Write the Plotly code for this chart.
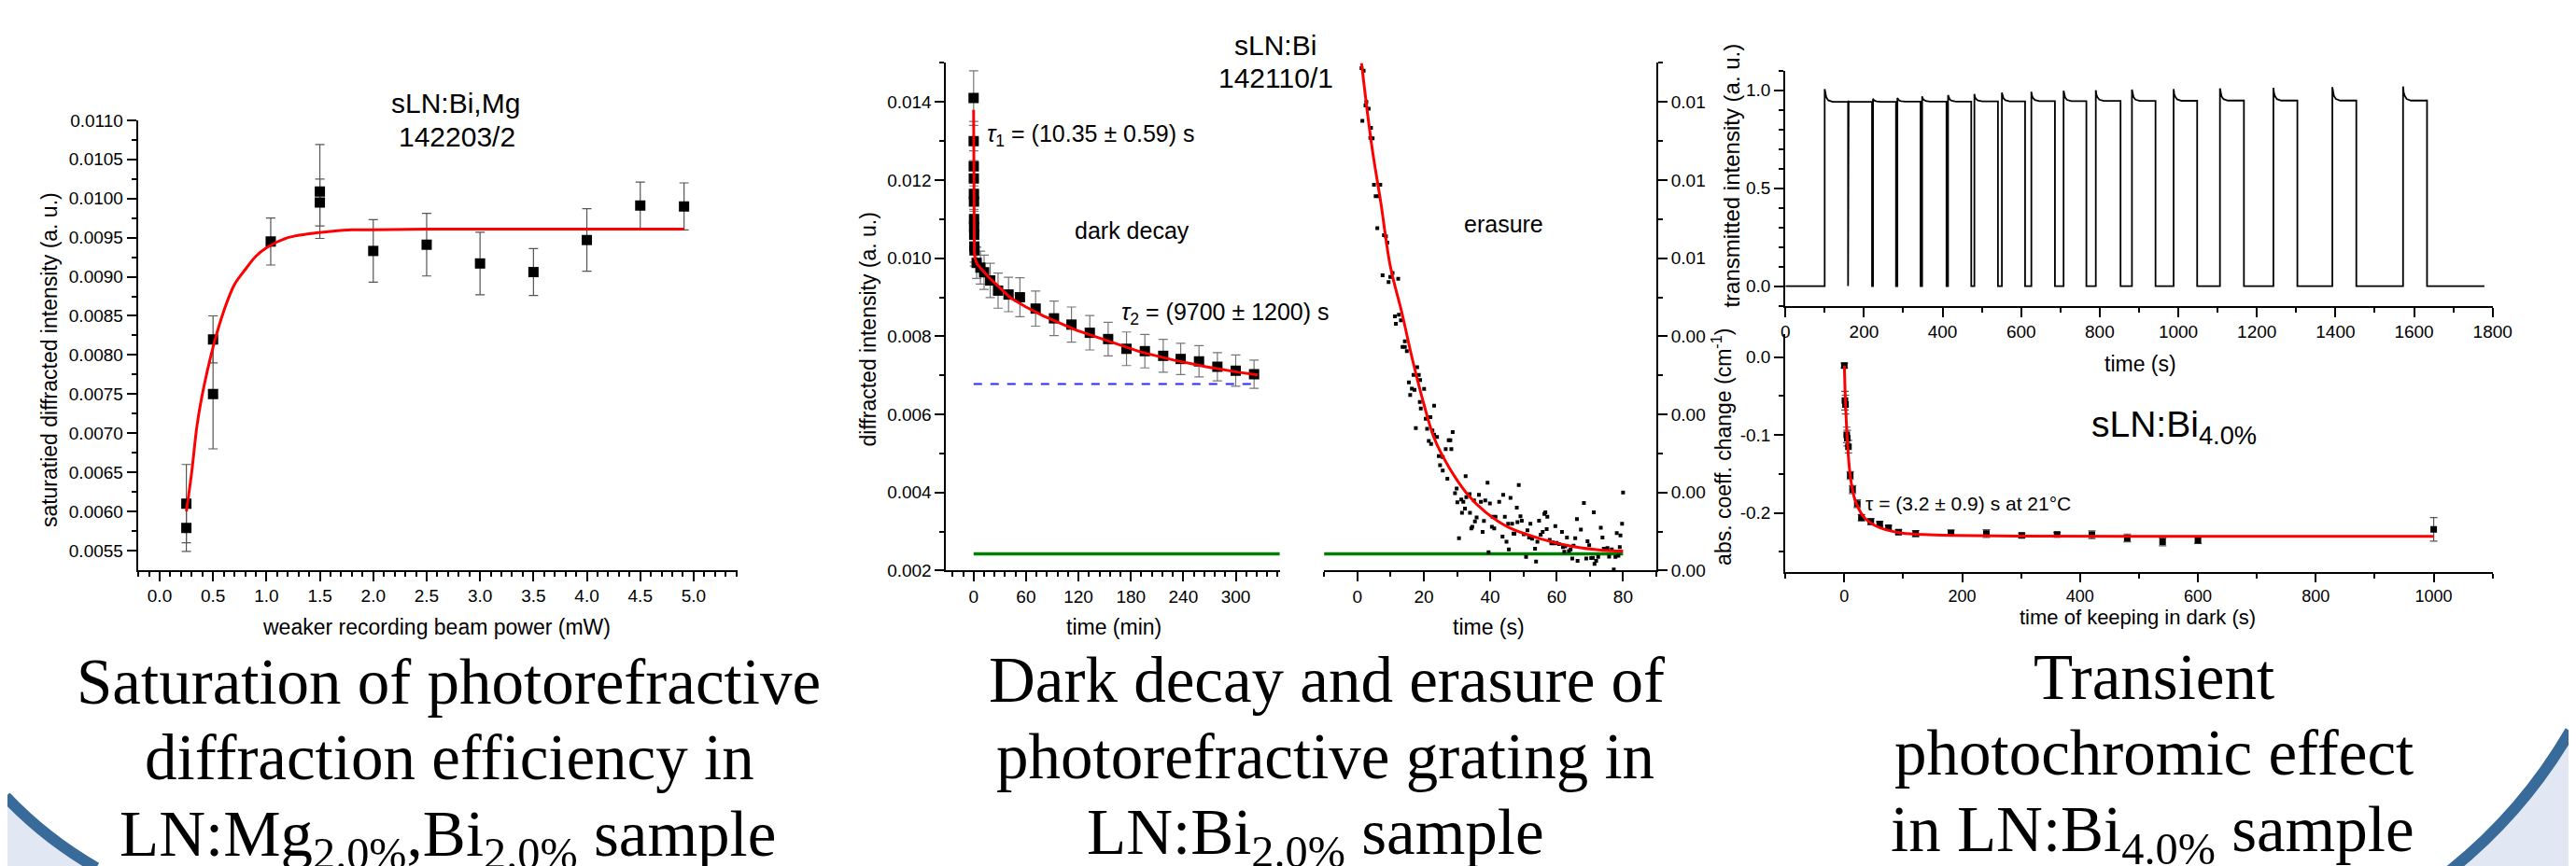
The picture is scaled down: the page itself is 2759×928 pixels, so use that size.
import plotly.graph_objects as go

W, H = 2759, 928
SANS = "Liberation Sans"
SERIF = "Liberation Serif"

# ---------------- Chart 1: saturation (sLN:Bi,Mg 142203/2) ----------------
power_mw = [0.25, 0.25, 0.5, 0.5, 1.04, 1.5, 1.5, 2.0, 2.5, 3.0, 3.5, 4.0, 4.5, 4.91]
sat_intensity = [0.0061, 0.00579, 0.0082, 0.0075, 0.00945, 0.01009, 0.00995, 0.00933,
                 0.00941, 0.00917, 0.00906, 0.00947, 0.00991, 0.0099]
sat_error = [0.0005, 0.0003, 0.0003, 0.0007, 0.0003, 0.0006, 0.0003, 0.0004,
             0.0004, 0.0004, 0.0003, 0.0004, 0.0003, 0.0003]
sat_fit_x = [0.25, 0.3, 0.35, 0.4, 0.5, 0.6, 0.7, 0.8, 0.9, 1.0, 1.2, 1.4, 1.6, 1.8,
             2.0, 2.5, 3.0, 3.5, 4.0, 4.5, 4.91]
sat_fit_y = [0.0060, 0.0065, 0.0071, 0.0075, 0.0081, 0.00856, 0.0089, 0.00909, 0.00926,
             0.00937, 0.0095, 0.00955, 0.00958, 0.0096, 0.0096, 0.00961, 0.00961, 0.00961,
             0.00961, 0.00961, 0.00961]

# ---------------- Chart 2: dark decay (min) and erasure (s) ----------------
decay_t_min = [0, 0.08, 0.17, 0.25, 0.33, 0.42, 0.5, 0.58, 0.67, 0.83, 1.0, 3.5, 7.8, 12,
               19, 28, 40, 53, 71, 92, 112, 133, 154, 175, 196, 217, 237, 258, 279, 300, 321]
decay_val = [0.0141, 0.0130, 0.01235, 0.01204, 0.01165, 0.01145, 0.0110, 0.0108, 0.0106,
             0.0103, 0.0102, 0.00988, 0.00976, 0.00964, 0.00943, 0.00917, 0.00907, 0.0090,
             0.00871, 0.00846, 0.0083, 0.00809, 0.00793, 0.00768, 0.00762, 0.0075, 0.00742,
             0.00736, 0.00722, 0.00712, 0.00703]
decay_err = [0.0007, 0.0005, 0.0004, 0.0004, 0.0004, 0.0004, 0.0004, 0.0004, 0.0004,
             0.0004, 0.0004, 0.0004, 0.00042, 0.00044, 0.00044, 0.00045, 0.00044, 0.0005,
             0.00045, 0.00044, 0.00045, 0.00044, 0.00043, 0.00043, 0.00043, 0.00042,
             0.0004, 0.0004, 0.00036, 0.0004, 0.00036]
decay_fit_t = [0, 0.1, 0.2, 0.3, 0.5, 0.8, 1.5, 4, 8, 17, 25, 42, 60, 80, 117, 154, 191,
               229, 266, 303, 325]
decay_fit_v = [0.0138, 0.0128, 0.0120, 0.0113, 0.0106, 0.0102, 0.0100, 0.00985, 0.00975,
               0.00952, 0.00935, 0.00899, 0.00875, 0.00852, 0.00816, 0.00788, 0.0076,
               0.00739, 0.00722, 0.00708, 0.00701]
offset_t_min = [0, 322]
offset_level = 0.00678
baseline_level = 0.00243

erasure_points = [
    (1.25, 0.01487), (1.9, 0.0148), (2.7, 0.0140), (2.45, 0.01391), (3.4, 0.01383),
    (1.5, 0.01352), (4.1, 0.01334), (3.9, 0.01308), (4.6, 0.01307), (5.0, 0.01188),
    (6.9, 0.01188), (5.5, 0.01159), (6.4, 0.01159), (6.0, 0.01077), (8.0, 0.01059),
    (8.6, 0.01056), (9.0, 0.0104), (7.6, 0.00956), (9.9, 0.00952), (10.6, 0.00962),
    (12.3, 0.00947), (9.4, 0.00939), (11.3, 0.00851), (12.5, 0.00855), (11.6, 0.00832),
    (13.1, 0.00841), (14.3, 0.00787), (13.6, 0.00773), (14.3, 0.00773), (14.9, 0.00762),
    (18.0, 0.00721), (16.9, 0.00701), (18.5, 0.00701), (18.9, 0.00688), (15.5, 0.00682),
    (16.4, 0.00666), (17.2, 0.00663), (20.1, 0.00665), (15.9, 0.0065), (18.8, 0.00632),
    (19.1, 0.00615), (23.1, 0.00622), (17.6, 0.00565), (20.6, 0.00589), (22.0, 0.00593),
    (21.0, 0.00563), (22.6, 0.00559), (23.1, 0.00548), (24.0, 0.00542), (21.5, 0.00532),
    (22.2, 0.00524), (28.7, 0.00555), (27.5, 0.00534), (28.0, 0.00534), (26.6, 0.00511),
    (28.3, 0.00511), (25.7, 0.00491), (24.5, 0.00493), (24.9, 0.0047), (25.7, 0.00456),
    (27.1, 0.00435), (32.6, 0.00442), (29.4, 0.00398), (29.9, 0.0041), (30.1, 0.00375),
    (31.3, 0.00382), (31.9, 0.00376), (32.4, 0.00359), (31.5, 0.00348), (30.6, 0.00283),
    (33.9, 0.00348), (32.8, 0.00388), (33.8, 0.00396), (35.1, 0.0038), (36.6, 0.00394),
    (39.2, 0.00425), (37.2, 0.00376), (34.6, 0.00312), (34.3, 0.00308), (35.4, 0.00326),
    (35.9, 0.00336), (38.1, 0.00327), (37.7, 0.00299), (38.5, 0.0038), (39.9, 0.00372),
    (39.5, 0.00247), (40.7, 0.00338), (41.6, 0.00338), (40.5, 0.00312), (41.2, 0.00308),
    (42.7, 0.00376), (43.9, 0.00394), (44.4, 0.00338), (43.7, 0.00287), (44.9, 0.00274),
    (45.6, 0.00254), (46.1, 0.00386), (45.4, 0.0032), (46.6, 0.0032), (47.0, 0.00295),
    (47.3, 0.00294), (48.0, 0.00361), (48.6, 0.00419), (49.1, 0.00339), (48.2, 0.00324),
    (49.5, 0.00328), (50.1, 0.00293), (50.8, 0.00235), (51.2, 0.00303), (52.1, 0.0032),
    (51.7, 0.00285), (52.6, 0.00282), (53.5, 0.00256), (53.8, 0.00223), (54.2, 0.00274),
    (54.7, 0.00328), (55.2, 0.00292), (55.8, 0.00299), (56.3, 0.00345), (56.6, 0.00349),
    (57.2, 0.00338), (57.0, 0.00306), (57.9, 0.00279), (58.4, 0.0027), (58.9, 0.00272),
    (59.6, 0.00314), (59.4, 0.0027), (60.0, 0.00271), (60.7, 0.00268), (61.6, 0.00299),
    (61.9, 0.0026), (62.3, 0.00248), (62.6, 0.00262), (63.1, 0.00285), (63.7, 0.0025),
    (64.2, 0.00254), (64.7, 0.00231), (65.1, 0.00264), (65.6, 0.00283), (66.1, 0.00332),
    (66.3, 0.00225), (67.3, 0.00305), (68.2, 0.00373), (68.9, 0.00231), (69.3, 0.00275),
    (69.8, 0.00265), (70.4, 0.00232), (70.9, 0.00233), (71.2, 0.00349), (71.4, 0.00217),
    (71.9, 0.00225), (72.5, 0.00235), (73.3, 0.0031), (73.8, 0.00285), (74.2, 0.00256),
    (74.9, 0.00254), (75.3, 0.00258), (75.8, 0.00236), (76.6, 0.00254), (77.2, 0.00203),
    (77.7, 0.00235), (78.1, 0.00296), (78.6, 0.00238), (79.0, 0.0026), (79.2, 0.0029),
    (79.7, 0.0032), (80.0, 0.004),
]
erasure_t_s = [p[0] for p in erasure_points]
erasure_val = [p[1] for p in erasure_points]
erasure_fit_t = [1.25, 4.3, 7.1, 9.9, 13.4, 16.6, 19.9, 23.1, 27.5, 33.1, 38.7, 45.7,
                 55.4, 64.7, 73.9, 80]
erasure_fit_v = [0.015, 0.0129, 0.0114, 0.0098, 0.0086, 0.0074, 0.0063, 0.0054, 0.00466,
                 0.00396, 0.00349, 0.0031, 0.00281, 0.00262, 0.00252, 0.0025]
right_tick_vals = [0.002, 0.004, 0.006, 0.008, 0.010, 0.012, 0.014]
right_tick_text = ["0.00", "0.00", "0.00", "0.00", "0.01", "0.01", "0.01"]

# ---------------- Chart 3a: transmitted intensity pulses ----------------
pulse_on_s = [100, 161, 223, 285, 348, 414, 481, 551, 626, 708, 790, 882, 988, 1106,
              1242, 1392, 1572]
pulse_off_s = [159.5, 220.5, 281.5, 344, 410, 473, 541, 610, 686, 766, 853, 942, 1048,
               1167, 1303, 1453, 1633]
pulse_peak = [1.006, 0.943, 0.957, 0.96, 0.969, 0.975, 0.981, 0.988, 0.992, 0.997, 1.0,
              1.003, 1.006, 1.009, 1.012, 1.016, 1.019]
pulse_plateau = [0.941, 0.941, 0.941, 0.942, 0.942, 0.942, 0.943, 0.943, 0.944, 0.944,
                 0.945, 0.945, 0.946, 0.947, 0.947, 0.947, 0.947]
relax_dt_s = [0, 1.5, 4, 9, 20]
relax_frac = [1.0, 0.6, 0.35, 0.12, 0.0]
trace_end_s = 1779

# ---------------- Chart 3b: abs. coeff. change vs keeping time ----------------
keep_t_s = [0, 1, 2, 4, 5, 7, 10, 14, 22, 29, 45, 60, 75, 92, 121, 181, 241, 301, 361,
            420, 480, 540, 600, 1000]
abs_change = [-0.011, -0.056, -0.061, -0.100, -0.104, -0.115, -0.152, -0.170, -0.188,
              -0.206, -0.211, -0.214, -0.219, -0.2245, -0.2265, -0.2257, -0.2265, -0.2288,
              -0.2277, -0.228, -0.232, -0.237, -0.235, -0.221]
abs_err = [0.003, 0.012, 0.012, 0.010, 0.010, 0.008, 0.005, 0.005, 0.005, 0.004, 0.004,
           0.003, 0.003, 0.003, 0.004, 0.004, 0.005, 0.003, 0.003, 0.005, 0.005, 0.005,
           0.004, 0.015]
abs_fit_t = [0, 2, 4.7, 7.9, 11.5, 16.8, 24.6, 35, 50.8, 71.7, 98, 134.6, 187, 291.6,
             500, 800, 1000]
abs_fit_v = [-0.011, -0.059, -0.102, -0.137, -0.160, -0.180, -0.195, -0.207, -0.2156,
             -0.2218, -0.2257, -0.2277, -0.2288, -0.2296, -0.230, -0.230, -0.230]
br_tick_vals = [0.0, -0.1, -0.2]
br_tick_text = ["0.0", "-0.1", "-0.2"]

# ---------------- build pulse trace from read on/off times ----------------
pulse_t, pulse_i = [0.0], [0.0]
for on, off, pk, pl in zip(pulse_on_s, pulse_off_s, pulse_peak, pulse_plateau):
    pulse_t += [on, on]
    pulse_i += [0.0, pk]
    for dt, fr in zip(relax_dt_s[1:], relax_frac[1:]):
        pulse_t.append(on + dt)
        pulse_i.append(pl + fr * (pk - pl))
    pulse_t += [off, off]
    pulse_i += [pl, 0.0]
pulse_t.append(trace_end_s)
pulse_i.append(0.0)


def fx(p):
    return p / W


def fy(p):
    return 1 - p / H


fig = go.Figure()

RED = "#ff0000"
sq = dict(symbol="square", color="black")

# chart 1
fig.add_trace(go.Scatter(x=power_mw, y=sat_intensity, mode="markers",
                         marker=dict(size=11, **sq),
                         error_y=dict(type="data", array=sat_error, color="#555555",
                                      thickness=1.2, width=5),
                         xaxis="x", yaxis="y"))
fig.add_trace(go.Scatter(x=sat_fit_x, y=sat_fit_y, mode="lines",
                         line=dict(color=RED, width=3, shape="spline"),
                         xaxis="x", yaxis="y"))

# chart 2 left
fig.add_trace(go.Scatter(x=offset_t_min, y=[offset_level, offset_level], mode="lines",
                         line=dict(color="#2b2bff", width=2, dash="dash"),
                         xaxis="x2", yaxis="y2"))
fig.add_trace(go.Scatter(x=[0, 400], y=[baseline_level, baseline_level], mode="lines",
                         line=dict(color="#008000", width=3.5), xaxis="x2", yaxis="y2"))
fig.add_trace(go.Scatter(x=decay_t_min, y=decay_val, mode="markers",
                         marker=dict(size=11, **sq),
                         error_y=dict(type="data", array=decay_err, color="#777777",
                                      thickness=1.2, width=5),
                         xaxis="x2", yaxis="y2"))
fig.add_trace(go.Scatter(x=decay_fit_t, y=decay_fit_v, mode="lines",
                         line=dict(color=RED, width=3), xaxis="x2", yaxis="y2"))
# chart 2 right
fig.add_trace(go.Scatter(x=[-20, 80], y=[baseline_level, baseline_level], mode="lines",
                         line=dict(color="#008000", width=3.5), xaxis="x3", yaxis="y3"))
fig.add_trace(go.Scatter(x=erasure_t_s, y=erasure_val, mode="markers",
                         marker=dict(size=4, **sq), xaxis="x3", yaxis="y3"))
fig.add_trace(go.Scatter(x=erasure_fit_t, y=erasure_fit_v, mode="lines",
                         line=dict(color=RED, width=3, shape="spline"),
                         xaxis="x3", yaxis="y3"))

# chart 3a
fig.add_trace(go.Scatter(x=pulse_t, y=pulse_i, mode="lines",
                         line=dict(color="black", width=1.8), xaxis="x4", yaxis="y4"))
# chart 3b
fig.add_trace(go.Scatter(x=keep_t_s, y=abs_change, mode="markers",
                         marker=dict(size=7, **sq),
                         error_y=dict(type="data", array=abs_err, color="#555555",
                                      thickness=1.2, width=4),
                         xaxis="x5", yaxis="y5"))
fig.add_trace(go.Scatter(x=abs_fit_t, y=abs_fit_v, mode="lines",
                         line=dict(color=RED, width=3, shape="spline"),
                         xaxis="x5", yaxis="y5"))


def ax(fs=19, **kw):
    base = dict(showline=True, linecolor="black", linewidth=2, ticks="outside",
                ticklen=10, tickwidth=1.5, tickcolor="black", showgrid=False,
                zeroline=False, mirror=False, fixedrange=True,
                tickfont=dict(family=SANS, size=fs, color="black"))
    base.update(kw)
    return base


def minor(d, t0=0):
    return dict(ticks="outside", ticklen=5, tickwidth=1.5, tickcolor="black",
                dtick=d, tick0=t0, showgrid=False)


ydom_mid = [fy(607.2), fy(50.6)]
layout_axes = dict(
    xaxis=ax(domain=[fx(136), fx(784)], range=[-0.2035, 5.408], anchor="y",
             dtick=0.5, tick0=0, tickformat=".1f", minor=minor(0.1)),
    yaxis=ax(domain=[fy(606.3), fy(113.5)], range=[0.005254, 0.0110], anchor="x",
             dtick=0.0005, tick0=0, tickformat=".4f", minor=minor(0.00025)),
    xaxis2=ax(domain=[fx(1010), fx(1370.5)], range=[-31.3, 350.3], anchor="y2",
              dtick=60, tick0=0, minor=minor(12)),
    yaxis2=ax(domain=ydom_mid, range=[0.002, 0.015], anchor="x2",
              dtick=0.002, tick0=0, tickformat=".3f", minor=minor(0.001)),
    xaxis3=ax(domain=[fx(1418.6), fx(1777.7)], range=[-10, 90], anchor="y3",
              dtick=20, tick0=0, minor=minor(10)),
    yaxis3=ax(domain=ydom_mid, range=[0.002, 0.015], anchor="x3", side="right",
              tickmode="array", tickvals=right_tick_vals, ticktext=right_tick_text,
              minor=dict(ticks="outside", ticklen=5, tickwidth=1.5, tickcolor="black",
                         tickmode="linear", dtick=0.001, tick0=0)),
    xaxis4=ax(domain=[fx(1917.3), fx(2682)], range=[0, 1800], anchor="y4",
              dtick=200, tick0=0, minor=minor(100)),
    yaxis4=ax(domain=[fy(316.7), fy(59)], range=[-0.1, 1.1], anchor="x4",
              dtick=0.5, tick0=0, tickformat=".1f", minor=minor(0.1)),
    xaxis5=ax(fs=18, domain=[fx(1917.3), fx(2682)], range=[-100, 1100], anchor="y5",
              dtick=200, tick0=0, ticklen=9, minor=minor(100)),
    yaxis5=ax(domain=[fy(608.3), fy(348)], range=[-0.2752, 0.0292], anchor="x5",
              tickmode="array", tickvals=br_tick_vals, ticktext=br_tick_text,
              minor=dict(ticks="outside", ticklen=5, tickwidth=1.5, tickcolor="black",
                         tickmode="linear", dtick=0.05, tick0=0)),
)

ann = []


def text(t, x, y, size, xa="center", ya="middle", angle=0, family=SANS):
    ann.append(dict(text=t, x=fx(x), y=fy(y), xref="paper", yref="paper",
                    xanchor=xa, yanchor=ya, showarrow=False, textangle=angle,
                    font=dict(family=family, size=size, color="black")))


# chart titles
text("sLN:Bi,Mg", 480, 95, 30)
text("142203/2", 481, 131, 30)
text("sLN:Bi", 1366, 31, 30)
text("142110/1", 1366, 67, 30)
text("sLN:Bi<sub>4.0%</sub>", 2246, 423, 39, xa="left", ya="top")
# axis titles
text("saturatied diffracted intensity (a. u.)", 41, 376, 23, angle=-90)
text("weaker recording beam power (mW)", 459, 669, 23)
text("diffracted intensity (a. u.)", 926, 343, 23, angle=-90)
text("time (min)", 1191, 669, 23)
text("time (s)", 1597, 669, 23)
text("transmitted intensity (a. u.)", 1859, 174, 24, angle=-90)
text("time (s)", 2301, 381, 23)
text("abs. coeff. change (cm<sup>-1</sup>)", 1849, 472, 23, angle=-90)
text("time of keeping in dark (s)", 2298, 658, 22)
# in-plot annotations
text("<i>τ</i><sub>1</sub> = (10.35 ± 0.59) s", 1052, 112, 25, xa="left", ya="top")
text("<i>τ</i><sub>2</sub> = (9700 ± 1200) s", 1197, 307, 25, xa="left", ya="top")
text("dark decay", 1211, 234, 25)
text("erasure", 1613, 227, 25)
text("τ = (3.2 ± 0.9) s at 21°C", 2002, 534, 21, xa="left")

# captions
caption_left = ["Saturation of photorefractive", "diffraction efficiency in",
                "LN:Mg<sub>2.0%</sub>,Bi<sub>2.0%</sub> sample"]
caption_mid = ["Dark decay and erasure of", "photorefractive grating in",
               "LN:Bi<sub>2.0%</sub> sample"]
caption_right = ["Transient", "photochromic effect", "in LN:Bi<sub>4.0%</sub> sample"]
for line, cx, top in zip(caption_left, [472, 473, 471], [688.5, 771.5, 855.5]):
    text(line, cx, top, 69, ya="top", family=SERIF)
for line, cx, top in zip(caption_mid, [1421, 1420, 1409], [686.5, 770.5, 853.5]):
    text(line, cx, top, 69, ya="top", family=SERIF)
for line, cx, top in zip(caption_right, [2316, 2316, 2314], [683.5, 766.5, 850.5]):
    text(line, cx, top, 69, ya="top", family=SERIF)


# decorative poster corners (blue rings)
def P(x, y):
    return f"{fx(x):.5f},{fy(y):.5f}"


FILL = "#E1E8F4"
RING = "#386A9A"
shapes = [
    dict(type="path", xref="paper", yref="paper", layer="below",
         path=f"M {P(-10, 854)} Q {P(36, 901)} {P(90, 935)} L {P(-10, 935)} Z",
         fillcolor=FILL, line=dict(width=0)),
    dict(type="path", xref="paper", yref="paper", layer="above",
         path=f"M {P(-7, 855)} Q {P(36, 901)} {P(91, 933)}",
         line=dict(color=RING, width=12)),
    dict(type="path", xref="paper", yref="paper", layer="below",
         path=f"M {P(2766, 783)} Q {P(2715, 872)} {P(2636, 936)} L {P(2766, 936)} Z",
         fillcolor=FILL, line=dict(width=0)),
    dict(type="path", xref="paper", yref="paper", layer="above",
         path=f"M {P(2766, 783)} Q {P(2715, 872)} {P(2636, 936)}",
         line=dict(color=RING, width=12)),
]

fig.update_layout(
    width=W, height=H, autosize=False,
    margin=dict(l=0, r=0, t=0, b=0, pad=0),
    paper_bgcolor="white", plot_bgcolor="rgba(0,0,0,0)",
    showlegend=False, annotations=ann, shapes=shapes,
    **layout_axes,
)

fig.write_html("out.html")
